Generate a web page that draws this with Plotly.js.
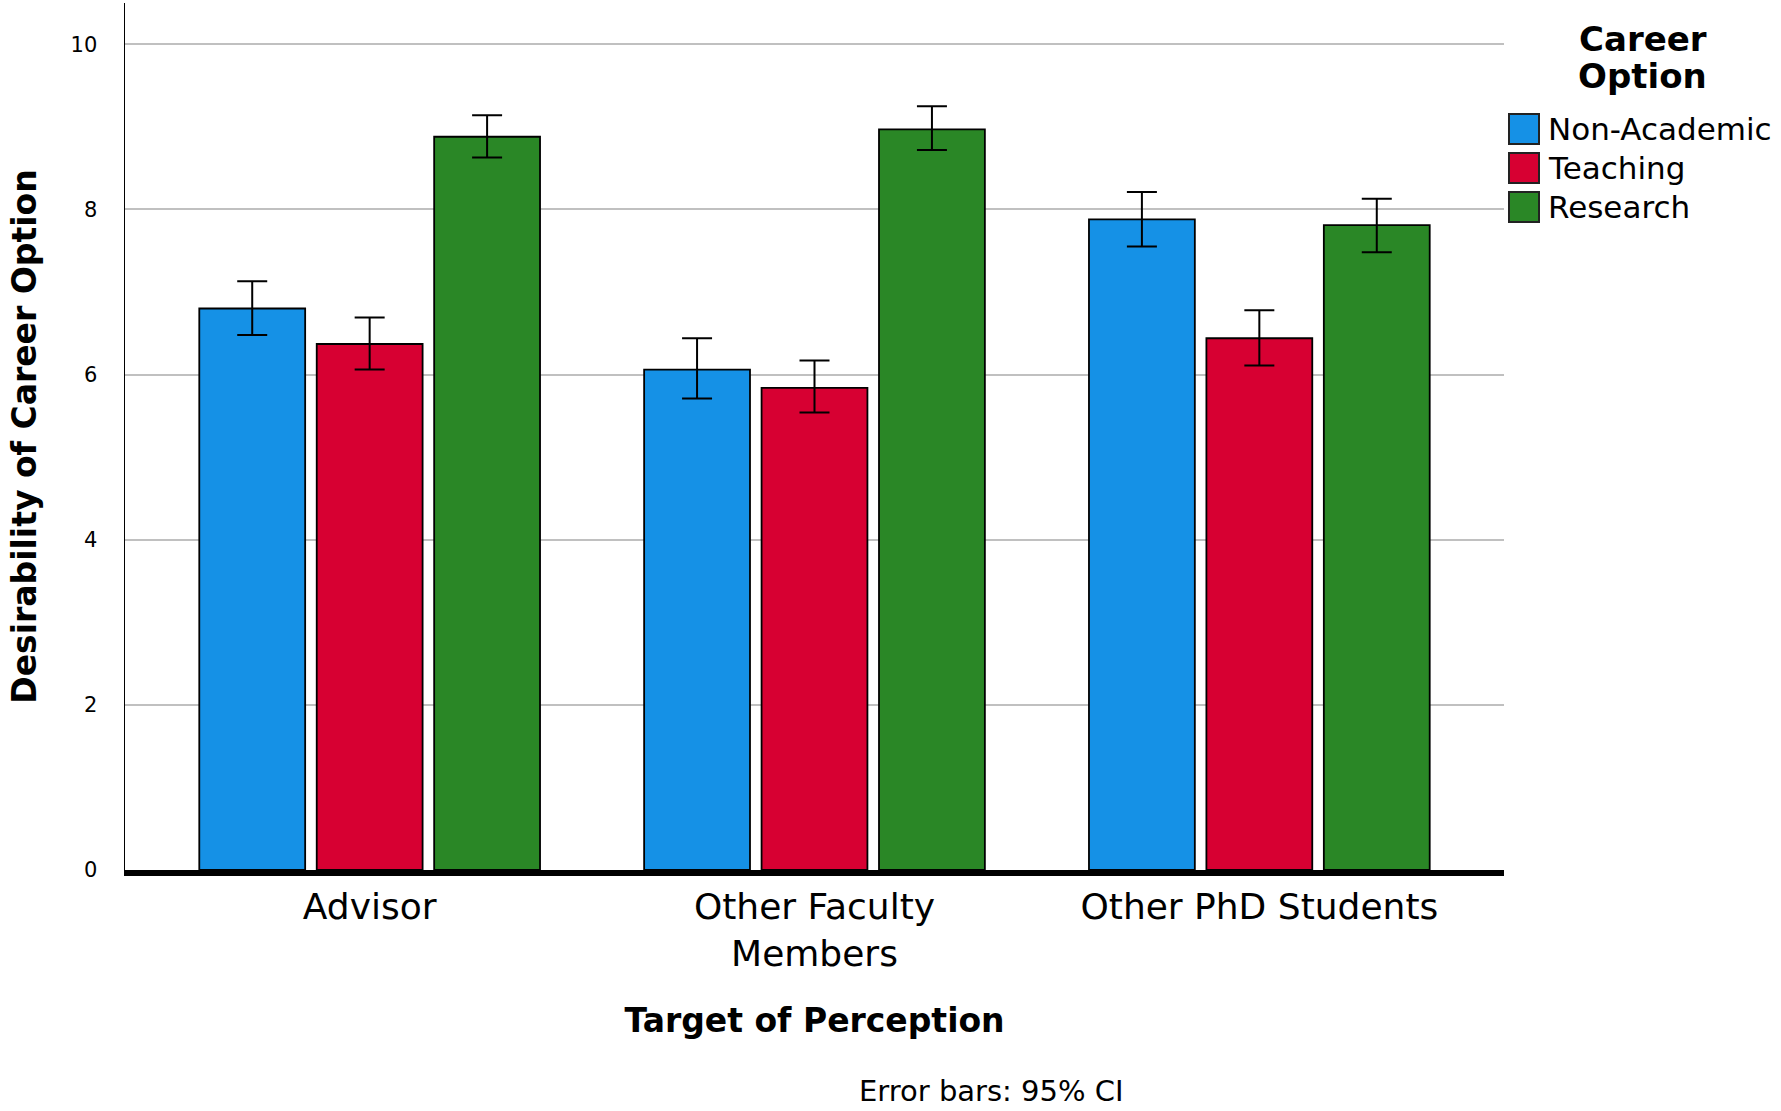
<!DOCTYPE html>
<html>
<head>
<meta charset="utf-8">
<script src="https://cdn.plot.ly/plotly-3.0.1.min.js"></script>
<style>
  html, body { margin: 0; padding: 0; background: #fff; }
  #myPlot { width: 1781px; height: 1111px; }
</style>
</head>
<body>
<div id="myPlot"></div>
<script>
// Values (means with 95% CI)
const categories = ['Advisor', 'Other Faculty<br>Members', 'Other PhD Students'];
const seriesNames = ['Non-Academic', 'Teaching', 'Research'];
const seriesColors = ['#1591e6', '#d70032', '#2a8726'];

const nonAcademic = [6.80, 6.06, 7.88];
const nonAcademicLow = [6.48, 5.71, 7.55];
const nonAcademicHigh = [7.13, 6.44, 8.21];

const teaching = [6.37, 5.84, 6.44];
const teachingLow = [6.06, 5.54, 6.11];
const teachingHigh = [6.69, 6.17, 6.78];

const research = [8.88, 8.97, 7.81];
const researchLow = [8.63, 8.72, 7.48];
const researchHigh = [9.14, 9.25, 8.13];

const yTicks = [0, 2, 4, 6, 8, 10];

const means = [nonAcademic, teaching, research];
const lows = [nonAcademicLow, teachingLow, researchLow];
const highs = [nonAcademicHigh, teachingHigh, researchHigh];

const font = 'DejaVu Sans, Verdana, sans-serif';

// Plot area in pixels, used to place the hand-made legend
const W = 1781, H = 1111;
const margin = {l: 125, r: 277, t: 3, b: 241};
const plotW = W - margin.l - margin.r;
const plotH = H - margin.t - margin.b;
const px2x = (px) => (px - margin.l) / plotW;
const px2y = (py) => (H - margin.b - py) / plotH;

// One bar trace per career option
const data = seriesNames.map((name, i) => ({
  type: 'bar',
  name: name,
  x: categories,
  y: means[i],
  marker: {color: seriesColors[i], line: {color: '#000', width: 1.8}},
  error_y: {
    type: 'data',
    symmetric: false,
    array: highs[i].map((v, k) => v - means[i][k]),
    arrayminus: means[i].map((v, k) => v - lows[i][k]),
    color: '#000',
    thickness: 2,
    width: 15
  },
  showlegend: false
}));

// Legend boxes and labels
const shapes = [];
const annotations = [];
seriesNames.forEach((name, i) => {
  const top = 114 + 39 * i;
  shapes.push({
    type: 'rect', xref: 'paper', yref: 'paper',
    x0: px2x(1509), x1: px2x(1539), y0: px2y(top + 30), y1: px2y(top),
    fillcolor: seriesColors[i], line: {color: '#222', width: 2}
  });
  annotations.push({
    xref: 'paper', yref: 'paper', x: px2x(1546), y: px2y(top + 15),
    xanchor: 'left', yanchor: 'middle', showarrow: false,
    text: name, font: {family: font, size: 31, color: '#000'}
  });
});
annotations.push({
  xref: 'paper', yref: 'paper', x: px2x(1643), y: px2y(39),
  xanchor: 'center', yanchor: 'middle', showarrow: false,
  text: '<b>Career</b>', font: {family: font, size: 34, color: '#000'}
});
annotations.push({
  xref: 'paper', yref: 'paper', x: px2x(1643), y: px2y(76),
  xanchor: 'center', yanchor: 'middle', showarrow: false,
  text: '<b>Option</b>', font: {family: font, size: 34, color: '#000'}
});
annotations.push({
  xref: 'paper', yref: 'paper', x: px2x(991), y: px2y(1091),
  xanchor: 'center', yanchor: 'middle', showarrow: false,
  text: 'Error bars: 95% CI', font: {family: font, size: 29, color: '#000'}
});

const layout = {
  width: W,
  height: H,
  margin: margin,
  paper_bgcolor: '#fff',
  plot_bgcolor: '#fff',
  barmode: 'group',
  bargap: 0.208,
  bargroupgap: 0.0985,
  font: {family: font, color: '#000'},
  xaxis: {
    range: [-0.55, 2.55],
    showline: true, linecolor: '#000', linewidth: 6,
    showgrid: false, ticks: '',
    tickfont: {size: 36, color: '#000'},
    ticklabelstandoff: 0,
    title: {text: '<b>Target of Perception</b>', font: {size: 33, color: '#000'}, standoff: 38},
    automargin: false
  },
  yaxis: {
    range: [0, 10.5],
    tickvals: yTicks,
    showline: true, linecolor: '#000', linewidth: 1.5,
    showgrid: true, gridcolor: '#c0c0c0', gridwidth: 2,
    zeroline: false, ticks: '',
    tickfont: {size: 21, color: '#000'},
    ticklabelstandoff: 22,
    title: {text: '<b>Desirability of Career Option</b>', font: {size: 33, color: '#000'}, standoff: 24},
    automargin: false
  },
  shapes: shapes,
  annotations: annotations
};

Plotly.newPlot('myPlot', data, layout, {displayModeBar: false, staticPlot: true});
</script>
</body>
</html>
